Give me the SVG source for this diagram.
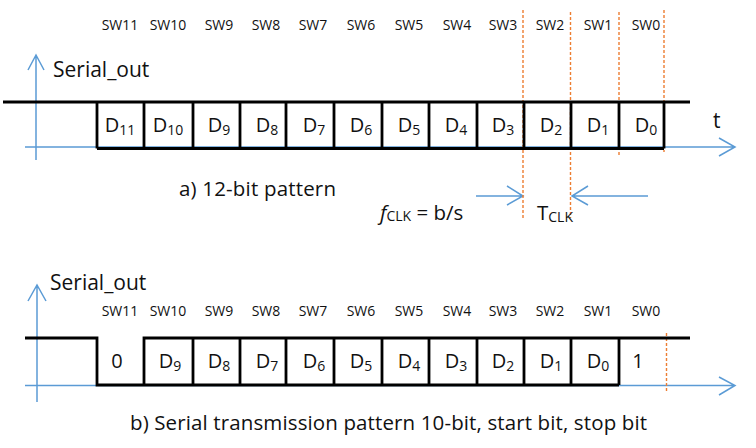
<svg xmlns="http://www.w3.org/2000/svg" width="756" height="448" viewBox="0 0 756 448">
<style>
text{font-family:"Open Sans","Noto Sans","Liberation Sans",sans-serif;fill:#111}
.sw{font-size:14px;text-anchor:middle}
.d{font-size:20px;text-anchor:middle}
.sub{font-size:14px}
.big{font-size:21px}
.cap{font-size:20.5px}
.sig{fill:none;stroke:#000;stroke-width:2.8;stroke-linejoin:miter}
.ax{fill:none;stroke:#5B9BD5;stroke-width:1.5}
.clk{fill:none;stroke:#ED7D31;stroke-width:1.4;stroke-dasharray:3 2}
</style>
<rect width="756" height="448" fill="#fff"/>

<g id="axes">
  <path class="ax" d="M36,160 V55 M28,70 L36,55 L44,70"/>
  <path class="ax" d="M25,147 H735 M719,138 L735,147 L719,156"/>
  <path class="ax" d="M37,402 V285 M28,301 L37,285 L46,301"/>
  <path class="ax" d="M25,385.5 H735 M719,377 L735,385.5 L719,395"/>
  <path class="ax" d="M476,196 H523 M507,186 L523,196 L507,205"/>
  <path class="ax" d="M648,196 H572 M588,186 L572,196 L588,205"/>
</g>

<g id="clock-lines">
  <line class="clk" x1="523" y1="10" x2="523" y2="218"/>
  <line class="clk" x1="570.5" y1="12" x2="570.5" y2="218"/>
  <line class="clk" x1="619" y1="12" x2="619" y2="156"/>
  <line class="clk" x1="664" y1="10" x2="664" y2="152"/>
  <line class="clk" x1="666.5" y1="333" x2="666.5" y2="392"/>
</g>

<g id="pattern-a">
  <path class="sig" d="M3,102 H690 M97,148.5 H664 M97,102 V148.5 M144,102 V148.5 M193,102 V148.5 M240,102 V148.5 M286,102 V148.5 M334,102 V148.5 M382,102 V148.5 M429,102 V148.5 M477,102 V148.5 M524,102 V148.5 M571,102 V148.5 M619,102 V148.5 M664,102 V148.5"/>
  <g id="sw-a">
    <text class="sw" x="120" y="30">SW11</text>
    <text class="sw" x="168" y="30">SW10</text>
    <text class="sw" x="219" y="30">SW9</text>
    <text class="sw" x="266" y="30">SW8</text>
    <text class="sw" x="313" y="30">SW7</text>
    <text class="sw" x="361" y="30">SW6</text>
    <text class="sw" x="409" y="30">SW5</text>
    <text class="sw" x="457" y="30">SW4</text>
    <text class="sw" x="503" y="30">SW3</text>
    <text class="sw" x="550" y="30">SW2</text>
    <text class="sw" x="598" y="30">SW1</text>
    <text class="sw" x="646" y="30">SW0</text>
  </g>
  <g id="bits-a">
    <text class="d" x="120" y="132">D<tspan class="sub" dy="3">11</tspan></text>
    <text class="d" x="168" y="132">D<tspan class="sub" dy="3">10</tspan></text>
    <text class="d" x="219" y="132">D<tspan class="sub" dy="3">9</tspan></text>
    <text class="d" x="267" y="132">D<tspan class="sub" dy="3">8</tspan></text>
    <text class="d" x="314" y="132">D<tspan class="sub" dy="3">7</tspan></text>
    <text class="d" x="361" y="132">D<tspan class="sub" dy="3">6</tspan></text>
    <text class="d" x="409" y="132">D<tspan class="sub" dy="3">5</tspan></text>
    <text class="d" x="456" y="132">D<tspan class="sub" dy="3">4</tspan></text>
    <text class="d" x="503" y="132">D<tspan class="sub" dy="3">3</tspan></text>
    <text class="d" x="551" y="132">D<tspan class="sub" dy="3">2</tspan></text>
    <text class="d" x="598" y="132">D<tspan class="sub" dy="3">1</tspan></text>
    <text class="d" x="646" y="132">D<tspan class="sub" dy="3">0</tspan></text>
  </g>
  <text class="big" x="53" y="77">Serial_out</text>
  <text class="big" x="713" y="128">t</text>
  <text class="cap" x="179" y="196" textLength="157">a) 12-bit pattern</text>
  <text class="cap" x="380" y="220"><tspan font-style="italic">f</tspan><tspan class="sub" dy="1">CLK</tspan><tspan dy="-1"> = b/s</tspan></text>
  <text class="cap" x="537" y="220">T<tspan class="sub" dy="1.5">CLK</tspan></text>
</g>

<g id="pattern-b">
  <path class="sig" d="M25,338 H97 V385 H144 V338 H690 M144,385 H619 M193,338 V385 M240,338 V385 M286,338 V385 M334,338 V385 M382,338 V385 M429,338 V385 M477,338 V385 M524,338 V385 M571,338 V385 M619,338 V385"/>
  <g id="sw-b">
    <text class="sw" x="120" y="316">SW11</text>
    <text class="sw" x="168" y="316">SW10</text>
    <text class="sw" x="219" y="316">SW9</text>
    <text class="sw" x="266" y="316">SW8</text>
    <text class="sw" x="313" y="316">SW7</text>
    <text class="sw" x="361" y="316">SW6</text>
    <text class="sw" x="409" y="316">SW5</text>
    <text class="sw" x="457" y="316">SW4</text>
    <text class="sw" x="503" y="316">SW3</text>
    <text class="sw" x="550" y="316">SW2</text>
    <text class="sw" x="598" y="316">SW1</text>
    <text class="sw" x="646" y="316">SW0</text>
  </g>
  <g id="bits-b">
    <text class="d" x="117" y="368">0</text>
    <text class="d" x="170" y="368">D<tspan class="sub" dy="3">9</tspan></text>
    <text class="d" x="219" y="368">D<tspan class="sub" dy="3">8</tspan></text>
    <text class="d" x="267" y="368">D<tspan class="sub" dy="3">7</tspan></text>
    <text class="d" x="314" y="368">D<tspan class="sub" dy="3">6</tspan></text>
    <text class="d" x="361" y="368">D<tspan class="sub" dy="3">5</tspan></text>
    <text class="d" x="409" y="368">D<tspan class="sub" dy="3">4</tspan></text>
    <text class="d" x="456" y="368">D<tspan class="sub" dy="3">3</tspan></text>
    <text class="d" x="503" y="368">D<tspan class="sub" dy="3">2</tspan></text>
    <text class="d" x="551" y="368">D<tspan class="sub" dy="3">1</tspan></text>
    <text class="d" x="598" y="368">D<tspan class="sub" dy="3">0</tspan></text>
    <text class="d" x="638" y="368">1</text>
  </g>
  <text class="big" x="50" y="290">Serial_out</text>
  <text class="cap" x="130" y="430" textLength="517">b) Serial transmission pattern 10-bit, start bit, stop bit</text>
</g>
</svg>
